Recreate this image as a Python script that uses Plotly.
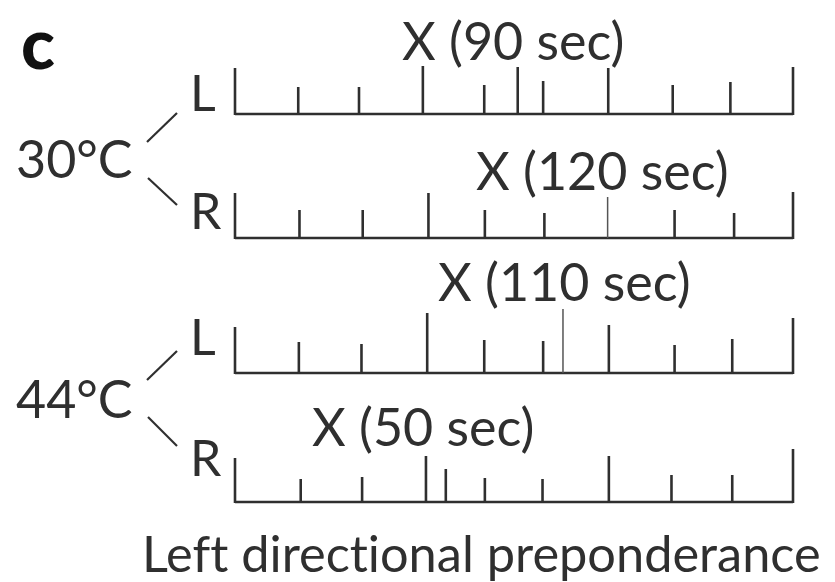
import plotly.graph_objects as go

# tick positions on each scale (scale units: 0 = left end, 9 = right end)
ticks_30L = [0, 1.02, 2.0, 3.03, 4.02, 4.56, 4.97, 6.02, 7.06, 7.99, 9]
ticks_30R = [0, 1.04, 2.06, 3.12, 4.03, 4.99, 6.01, 7.09, 8.05, 9]
ticks_44L = [0, 1.03, 2.04, 3.10, 4.02, 4.97, 5.29, 6.03, 7.09, 8.02, 9]
ticks_44R = [0, 1.06, 2.05, 3.08, 3.40, 4.03, 4.96, 6.03, 7.04, 8.02, 9]

# tick lengths (same units as the vertical axis)
len_30L = [46, 27, 27, 48, 29, 47, 33, 46, 29, 32, 47]
len_30R = [45, 28, 28, 45, 28, 25, 41, 28, 25, 46]
len_44L = [46, 31, 29, 60, 33, 32, 64, 48, 28, 34, 55]
len_44R = [44, 23, 25, 46, 33, 24, 23, 46, 27, 27, 53]

# index of the response tick in each row, and its label
response_idx = [5, 6, 6, 4]
response_text = ["X (90 sec)", "X (120 sec)", "X (110 sec)", "X (50 sec)"]
temps = ["30°C", "44°C"]
sides = ["L", "R", "L", "R"]
xlabel = "Left directional preponderance"

W, H = 835, 582
OFF = 8                       # page body margin
FW, FH = W - OFF, H - OFF     # figure size
X0, UNIT = 235, 62.0          # page pixel of scale 0 and pixels per scale unit
baselines = [114, 238, 373, 502]
thin_rows = [1, 2]            # rows whose response tick is drawn thin
INK = "#2f2f2f"
FONT = "Lato"

rows = [
    (ticks_30L, len_30L),
    (ticks_30R, len_30R),
    (ticks_44L, len_44L),
    (ticks_44R, len_44R),
]


def px(v):
    return (v - X0) / UNIT


fig = go.Figure()

for r, (pos, lens) in enumerate(rows):
    y0 = baselines[r]
    fig.add_trace(go.Scatter(x=[pos[0], pos[-1]], y=[y0, y0], mode="lines",
                             line=dict(color=INK, width=2.6), hoverinfo="skip"))
    xs, ys, xt, yt = [], [], [], []
    for i, (p, l) in enumerate(zip(pos, lens)):
        if r in thin_rows and i == response_idx[r]:
            xt += [p, p, None]
            yt += [y0, y0 - l, None]
        else:
            xs += [p, p, None]
            ys += [y0 + 1, y0 - l, None]
    fig.add_trace(go.Scatter(x=xs, y=ys, mode="lines",
                             line=dict(color=INK, width=2.6), hoverinfo="skip"))
    if xt:
        fig.add_trace(go.Scatter(x=xt, y=yt, mode="lines",
                                 line=dict(color="#555555", width=1.5), hoverinfo="skip"))

# branch strokes next to the temperatures
strokes = [((147, 142), (177, 113)), ((148, 178), (177, 205)),
           ((147, 380), (177, 351)), ((148, 417), (177, 446))]
for (xa, ya), (xb, yb) in strokes:
    fig.add_trace(go.Scatter(x=[px(xa), px(xb)], y=[ya, yb], mode="lines",
                             line=dict(color=INK, width=2.2), hoverinfo="skip"))

ann = []


def label(text, x, y, size=52, weight="normal", color=INK):
    ann.append(dict(text=text,
                    x=(x - OFF) / FW, y=1 - (y - OFF) / FH,
                    xref="paper", yref="paper", xanchor="left", yanchor="middle",
                    showarrow=False,
                    font=dict(family=FONT, size=size, color=color, weight=weight)))


label("c", 19, 42, size=70, weight=900, color="#111111")
label(response_text[0], 400, 40)
label(response_text[1], 474, 170)
label(response_text[2], 436, 281)
label(response_text[3], 310, 426)
label(temps[0], 14, 158)
label(temps[1], 14, 398)
label(sides[0], 188, 92, size=50)
label(sides[1], 188, 210, size=50)
label(sides[2], 188, 336, size=50)
label(sides[3], 188, 457, size=50)
label(f'<span style="font-variant-ligatures:none">{xlabel}</span>', 140, 552, size=50.5)

fig.update_layout(
    width=FW, height=FH,
    margin=dict(l=0, r=0, t=0, b=0),
    paper_bgcolor="white", plot_bgcolor="white",
    showlegend=False,
    annotations=ann,
    xaxis=dict(range=[px(OFF), px(W)], visible=False, fixedrange=True),
    yaxis=dict(range=[H, OFF], visible=False, fixedrange=True),
)

fig.write_html("out.html")
